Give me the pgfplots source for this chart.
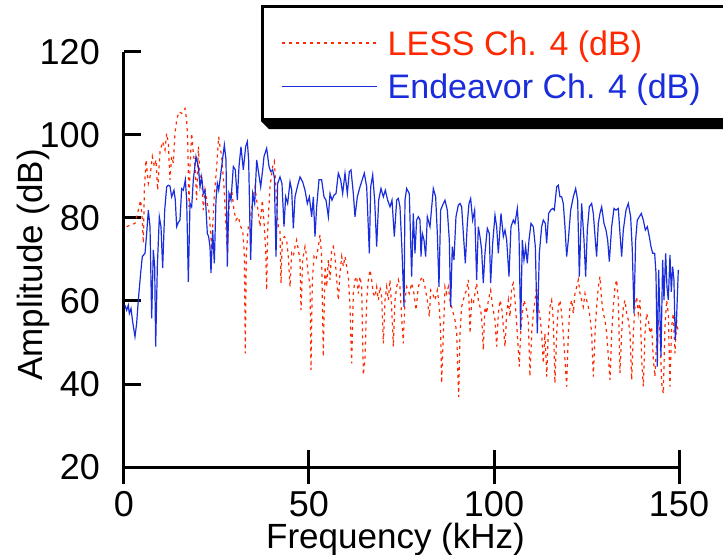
\documentclass[border=0pt]{standalone}
\usepackage{pgfplots}
\pgfplotsset{compat=1.18}
\usepackage{fontspec}
\setmainfont{Liberation Sans}
\definecolor{lessred}{RGB}{255,40,0}
\definecolor{endblue}{RGB}{25,45,220}
\begin{document}
\begin{tikzpicture}
\begin{axis}[
  at={(0,0)}, anchor=south west,
  scale only axis, width=555bp, height=415bp,
  xmin=0, xmax=150, ymin=20, ymax=120,
  axis x line=bottom, axis y line=left,
  axis line style={-, line width=3bp, black},
  xtick={0,50,100,150}, ytick={20,40,60,80,100,120},
  tick align=inside, major tick length=17bp,
  tick style={line width=3bp, black},
  extra x ticks={0,50,100,150}, extra x tick labels={},
  extra x tick style={tick align=outside},
  minor tick num=0,
  /pgf/number format/assume math mode=true,
  tick label style={font=\fontsize{36bp}{40bp}\selectfont},
  yticklabel style={inner sep=0pt, anchor=east, xshift=-24bp},
  xticklabel style={inner sep=0pt, anchor=north, yshift=-24bp},
  xlabel={Frequency (kHz)},
  xlabel style={at={(axis description cs:0.5,0)}, anchor=base, inner sep=0pt, yshift=-81bp, xshift=-6bp, font=\fontsize{35bp}{40bp}\selectfont},
  ylabel={Amplitude (dB)},
  ylabel style={at={(axis description cs:-0.1477,0.487)}, anchor=base, inner sep=0pt, font=\fontsize{35bp}{40bp}\selectfont},
  legend style={name=leg, at={(axis description cs:0.2468,1.1133)}, anchor=north west,
    draw=black, line width=3bp, fill=white,
    inner xsep=19bp, inner ysep=13.6bp, row sep=11.1bp, column sep=10bp,
    nodes={inner sep=0pt, text depth=7.4bp},
    cells={anchor=base west},
    font=\fontsize{34bp}{40bp}\selectfont},
  legend image code/.code={\draw[#1] (0bp,12.5bp) -- (95bp,12.5bp);},
]
\addplot[lessred, line width=1.2bp, dash pattern=on 3bp off 4bp] coordinates {
(0.72,77.9)(1.62,78.3)(2.97,78.7)(3.87,81.9)(4.5,84.3)(4.95,79.5)(5.23,73.9)(5.5,86.7)(5.95,94.0)(6.31,90.8)(6.58,88.3)(7.03,89.9)(7.66,94.8)(8.2,92.4)(8.65,94.0)(9.1,86.7)(9.73,96.0)(10.45,98.4)(11.08,96.4)(11.53,100.4)(11.98,98.0)(12.43,89.2)(12.88,94.8)(13.33,93.2)(13.78,100.4)(14.23,103.6)(14.87,105.6)(15.59,105.2)(16.04,106.0)(16.49,106.4)(16.94,103.6)(17.21,98.8)(17.57,82.7)(17.84,92.4)(18.29,100.4)(18.74,95.6)(19.19,92.4)(19.64,84.3)(20.09,97.2)(20.54,89.9)(20.99,89.9)(21.44,81.9)(21.89,86.7)(22.52,83.5)(23.06,81.1)(23.69,72.3)(24.32,84.3)(25.05,92.4)(25.59,99.6)(25.95,97.2)(26.4,94.8)(27.03,87.5)(27.57,77.9)(27.93,71.5)(28.47,84.3)(29.1,86.7)(29.73,81.9)(30.27,79.5)(30.9,80.3)(31.53,77.9)(32.07,77.1)(32.52,71.5)(32.79,47.4)(33.06,71.5)(33.6,77.9)(34.23,80.3)(34.77,84.3)(35.41,87.5)(35.86,84.3)(36.31,81.1)(36.76,77.9)(37.39,84.3)(37.93,77.9)(38.29,72.3)(38.56,62.6)(38.83,77.1)(39.46,87.5)(40.18,92.4)(40.63,93.6)(40.99,88.3)(41.26,82.7)(41.71,77.9)(42.16,77.1)(42.43,64.3)(42.79,74.7)(43.33,75.5)(43.96,74.7)(44.41,70.7)(44.87,63.4)(45.32,71.5)(45.77,70.7)(46.22,73.1)(46.67,74.7)(47.12,72.3)(47.57,69.9)(47.84,57.8)(48.29,69.9)(48.92,73.1)(49.37,70.7)(49.82,65.9)(50.27,64.3)(50.54,43.4)(50.9,65.0)(51.35,70.7)(51.89,69.9)(52.52,73.1)(52.97,75.9)(53.42,70.7)(53.87,46.6)(54.32,68.3)(54.77,63.4)(55.23,69.9)(55.68,65.1)(56.13,72.3)(56.58,73.1)(57.03,70.7)(57.48,65.1)(57.93,60.2)(58.38,66.7)(58.83,70.7)(59.28,68.3)(59.73,70.7)(60.18,68.3)(60.63,65.9)(61.08,58.6)(61.53,45.0)(61.98,61.8)(62.43,65.1)(62.88,65.9)(63.33,61.8)(63.78,65.9)(64.23,63.4)(64.68,42.2)(65.14,45.8)(65.59,60.2)(66.04,65.1)(66.49,67.5)(66.94,65.1)(67.39,61.8)(67.84,61.0)(68.29,63.4)(68.74,60.2)(69.19,63.4)(69.64,61.0)(70.09,49.8)(70.54,60.2)(70.99,63.4)(71.44,60.2)(71.89,65.1)(72.34,58.6)(72.79,49.0)(73.24,60.2)(73.7,63.4)(74.14,65.1)(74.59,63.4)
(75.04,56.2)(75.49,49.8)(75.94,60.2)(76.39,63.4)(77.11,61.8)(77.74,64.3)(78.37,61.8)(78.91,57.8)(79.55,63.4)(80.18,65.1)(80.72,65.9)(81.35,63.4)(81.98,60.2)(82.52,56.2)(82.88,62.6)(83.42,61.8)(84.05,60.2)(84.68,62.6)(85.22,58.6)(85.58,52.2)(85.85,40.2)(86.3,52.2)(86.75,63.4)(87.2,61.8)(87.65,63.4)(88.1,60.2)(88.55,58.6)(89.0,57.0)(89.46,55.4)(89.91,52.2)(90.45,36.9)(90.81,52.2)(91.26,58.6)(91.71,60.2)(92.16,61.8)(92.61,62.6)(93.06,65.1)(93.51,52.2)(93.96,60.2)(94.41,59.4)(94.86,61.8)(95.31,64.3)(95.76,60.2)(96.21,58.6)(96.66,56.2)(97.11,48.2)(97.56,58.6)(98.02,57.0)(98.47,60.2)(99.09,62.6)(99.64,58.6)(100.27,55.4)(100.72,49.0)(101.17,57.0)(101.62,60.2)(102.07,58.6)(102.52,53.8)(102.97,49.0)(103.42,57.0)(103.87,60.2)(104.32,56.2)(104.77,63.4)(105.22,64.3)(105.67,60.2)(106.3,52.2)(106.84,44.2)(107.2,52.2)(107.65,57.0)(108.1,60.2)(108.64,58.6)(109.27,55.4)(109.72,41.8)(110.18,52.2)(110.63,57.0)(111.08,60.2)(111.53,63.4)(111.98,58.6)(112.43,56.2)(112.88,52.2)(113.33,45.0)(113.78,52.2)(114.23,41.8)(114.68,52.2)(115.13,58.6)(115.58,60.2)(116.03,55.4)(116.48,40.2)(116.93,52.2)(117.38,58.6)(117.83,60.2)(118.28,57.0)(118.73,52.2)(119.18,45.8)(119.64,39.4)(120.09,52.2)(120.54,58.6)(120.99,60.2)(121.44,57.0)(121.89,61.8)(122.34,63.4)(122.79,65.1)(123.24,61.8)(123.69,60.2)(124.14,58.6)(124.59,61.8)(125.04,60.2)(125.49,58.6)(125.95,56.2)(126.4,52.2)(126.85,41.8)(127.3,52.2)(127.74,58.6)(128.19,63.4)(128.64,65.9)(129.1,60.2)(129.55,57.0)(130.0,55.4)(130.45,52.2)(130.9,46.6)(131.35,41.0)(131.8,52.2)(132.25,58.6)(132.7,63.4)(133.15,65.1)(133.6,60.2)(134.05,42.6)(134.5,52.2)(134.95,58.6)(135.4,60.2)(135.85,57.0)(136.3,55.4)(136.75,52.2)(137.2,41.0)(137.65,52.2)(138.1,58.6)(138.55,61.0)(139.0,57.0)(139.46,60.2)(139.91,45.8)(140.36,39.4)(140.81,52.2)(141.26,57.0)(141.71,55.4)(142.16,52.2)(142.61,53.8)(143.06,45.8)(143.51,41.8)(143.96,50.6)(144.41,55.4)(144.86,52.2)(145.31,40.2)(145.76,37.7)(146.21,53.8)(146.66,60.2)(147.11,57.0)(147.56,39.4)(148.0,53.8)(148.46,57.0)(148.91,47.4)(149.36,55.4)(149.81,52.2)
};
\addlegendentry{\rule{0pt}{35.4bp}\textcolor{lessred}{LESS Ch. 4 (dB)}}
\addplot[endblue, line width=1.2bp] coordinates {
(0.27,59.0)(0.72,57.8)(1.17,59.0)(1.44,57.0)(1.89,58.2)(2.34,55.0)(2.97,51.4)(3.42,54.6)(3.87,60.2)(4.5,66.7)(4.95,70.7)(5.68,71.5)(6.13,76.3)(6.58,81.9)(7.03,77.9)(7.48,55.8)(7.93,72.3)(8.29,68.3)(8.56,49.0)(9.01,68.3)(9.55,80.3)(10.0,77.9)(10.45,67.9)(11.0,81.9)(11.53,87.5)(11.98,87.9)(12.43,87.7)(12.88,85.1)(13.51,86.7)(13.87,84.3)(14.23,77.9)(14.68,78.9)(15.13,79.5)(15.59,87.1)(16.04,86.7)(16.58,89.2)(16.94,84.3)(17.39,64.6)(17.84,83.5)(18.29,82.7)(18.74,89.2)(19.46,94.8)(20.09,92.4)(20.54,87.5)(20.99,89.9)(21.44,85.9)(21.89,86.7)(22.52,76.3)(22.88,75.5)(23.24,73.1)(23.51,66.7)(23.96,77.1)(24.41,69.1)(24.86,84.3)(25.22,88.3)(25.59,86.7)(25.95,89.2)(26.4,92.4)(27.12,97.6)(27.57,94.0)(27.93,68.3)(28.38,85.9)(28.92,84.3)(29.55,92.4)(30.09,91.6)(30.63,84.3)(31.08,92.4)(31.62,97.2)(32.25,91.6)(32.88,97.2)(33.33,98.4)(33.69,94.0)(34.23,69.9)(34.77,85.9)(35.32,83.5)(35.86,94.0)(36.4,90.8)(36.94,87.5)(37.48,91.6)(37.84,94.8)(38.56,96.8)(39.19,92.4)(39.64,91.2)(40.18,91.6)(40.63,89.9)(41.08,70.7)(41.53,88.3)(42.16,89.9)(42.7,88.3)(43.24,77.9)(43.69,85.1)(44.23,83.5)(44.87,88.7)(45.32,86.7)(45.77,77.5)(46.22,85.1)(46.85,87.5)(47.57,89.9)(48.29,88.7)(48.92,86.7)(49.55,83.5)(50.09,85.1)(50.72,80.3)(51.17,85.1)(51.62,75.5)(52.07,82.7)(52.7,89.2)(53.42,89.2)(54.05,85.1)(54.6,84.3)(55.23,80.3)(55.68,85.9)(56.22,84.3)(56.76,85.5)(57.3,85.9)(57.93,90.8)(58.56,89.2)(59.1,85.9)(59.73,90.8)(60.36,85.9)(60.9,91.2)(61.35,91.6)(61.98,85.9)(62.43,80.3)(63.06,85.1)(63.78,87.5)(64.95,90.8)(65.59,87.5)(66.31,71.5)(66.67,87.5)(67.21,90.4)(67.75,84.3)(68.29,73.1)(68.83,84.3)(69.46,87.1)(70.09,85.1)(70.63,86.7)(71.26,84.3)(71.89,82.7)(72.43,84.3)(73.06,75.5)(73.7,84.3)(74.14,84.7)(74.59,82.7)(75.13,72.3)(75.68,58.6)
(75.94,84.3)(76.39,87.1)(77.11,85.9)(77.74,65.9)(78.19,81.1)(78.64,71.5)(79.09,79.5)(79.55,80.3)(80.0,79.5)(80.27,70.7)(80.63,76.3)(81.08,74.7)(81.53,70.7)(81.98,80.3)(82.7,77.9)(83.6,87.1)(84.23,85.1)(84.68,76.3)(85.13,63.4)(85.58,81.9)(86.12,83.1)(86.75,84.3)(87.38,81.9)(87.92,74.7)(88.28,58.6)(88.73,73.1)(89.18,69.9)(89.72,80.3)(90.36,83.1)(90.81,83.5)(91.26,82.7)(91.71,76.3)(92.25,69.1)(92.79,78.7)(93.24,83.5)(93.69,84.7)(94.23,79.5)(94.77,81.9)(95.31,65.1)(95.76,77.9)(96.21,75.5)(96.66,72.3)(97.11,64.3)(97.56,71.5)(98.19,77.5)(98.73,76.3)(99.09,64.3)(99.64,73.9)(100.27,80.7)(100.72,77.9)(101.17,71.5)(101.89,81.1)(102.52,75.5)(102.97,77.1)(103.42,74.7)(104.05,65.9)(104.59,77.9)(105.22,79.5)(105.67,78.7)(106.3,82.3)(106.75,76.3)(107.2,53.0)(107.65,74.7)(108.1,69.9)(108.55,73.1)(109.0,69.1)(109.46,74.7)(110.0,78.7)(110.63,77.9)(111.17,73.1)(111.71,52.2)(112.25,71.5)(112.88,77.9)(113.33,79.5)(113.87,78.7)(114.23,73.9)(114.77,81.1)(115.31,81.9)(115.85,82.3)(116.3,81.9)(116.93,87.5)(117.38,87.9)(117.83,85.1)(118.28,85.1)(118.73,83.5)(119.18,77.9)(119.64,70.7)(120.09,74.7)(120.72,81.9)(121.44,85.1)(122.07,87.1)(122.61,84.3)(123.06,65.9)(123.69,83.5)(124.32,74.7)(124.77,65.9)(125.22,77.1)(125.76,82.7)(126.39,83.5)(126.84,81.1)(127.38,74.7)(127.74,70.7)(128.19,78.7)(128.64,81.1)(129.1,82.7)(129.73,78.7)(130.27,77.1)(130.72,74.7)(131.17,69.5)(131.8,77.9)(132.43,82.3)(132.97,81.9)(133.6,82.3)(134.05,76.3)(134.5,70.7)(134.95,77.1)(135.67,81.9)(136.3,83.5)(136.93,80.3)(137.38,72.3)(137.83,57.0)(138.28,74.7)(138.73,79.5)(139.27,80.3)(139.81,81.1)(140.36,79.5)(140.9,77.1)(141.44,77.9)(141.98,75.5)(142.43,73.1)(142.88,71.5)(143.42,71.5)(143.78,66.7)(144.14,44.2)(144.5,67.5)(144.86,56.2)(145.13,46.6)(145.58,69.9)(145.94,60.2)(146.39,71.5)(146.75,63.4)(147.11,60.2)(147.56,71.1)(147.92,62.2)(148.28,68.3)(148.63,65.1)(148.99,50.6)(149.36,56.2)(149.81,67.5)
};
\addlegendentry{\textcolor{endblue}{Endeavor Ch. 4 (dB)}\rule{40bp}{0pt}}
\end{axis}
\fill[black] (leg.south west) -- ([xshift=8bp,yshift=-8bp]leg.south west)
  -- ([xshift=8bp,yshift=-8bp]leg.south east) -- ([xshift=8bp,yshift=-8bp]leg.north east)
  -- ([yshift=-8bp]leg.north east) -- (leg.south east) -- cycle;
\pgfresetboundingbox
\path[use as bounding box] (-124bp,-88bp) rectangle (599bp,467bp);
\end{tikzpicture}
\end{document}
